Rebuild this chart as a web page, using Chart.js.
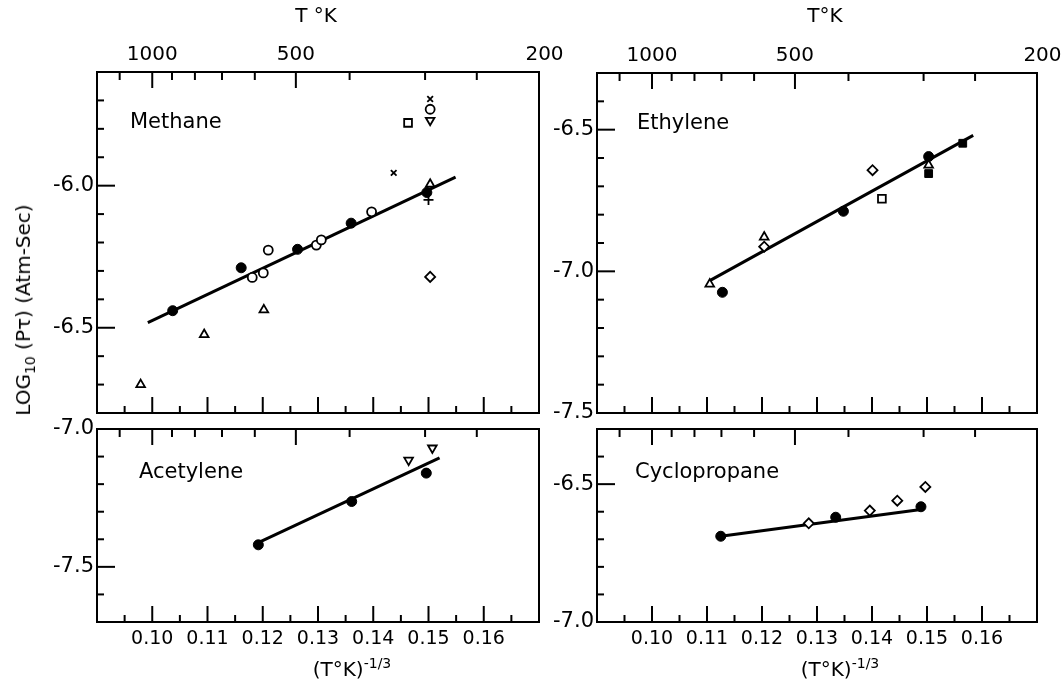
<!DOCTYPE html>
<html>
<head>
<meta charset="utf-8">
<script src="https://cdn.jsdelivr.net/npm/chart.js@4.4.1/dist/chart.umd.min.js"></script>
<style>
body { margin: 0; background: #fff; }
#wrap { position: relative; width: 1063px; height: 680px; font-family: "DejaVu Sans", sans-serif; color: #000; overflow: hidden; }
canvas { position: absolute; }
.lbl { position: absolute; font-size: 20px; white-space: nowrap; line-height: 1; }
.lbl sup { font-size: 14px; vertical-align: 8px; }
.lbl sub { font-size: 14px; vertical-align: -5px; }
</style>
</head>
<body>
<div id="wrap">
  <canvas id="methane" width="570" height="426" style="left:0;top:0"></canvas>
  <canvas id="ethylene" width="523" height="426" style="left:540px;top:0"></canvas>
  <canvas id="acetylene" width="570" height="280" style="left:0;top:400px"></canvas>
  <canvas id="cyclopropane" width="523" height="280" style="left:540px;top:400px"></canvas>

  <div class="lbl" style="left:316px;top:5px;transform:translateX(-50%)">T °K</div>
  <div class="lbl" style="left:825px;top:5px;transform:translateX(-50%)">T°K</div>
  <div class="lbl" style="left:25px;top:310px;transform:translate(-50%,-50%) rotate(-90deg)">LOG<sub>10</sub> (Pτ) (Atm-Sec)</div>
  <div class="lbl" style="left:352px;top:656px;transform:translateX(-50%)">(T°K)<sup>-1/3</sup></div>
  <div class="lbl" style="left:840px;top:656px;transform:translateX(-50%)">(T°K)<sup>-1/3</sup></div>
</div>

<script>
// axes
const X_MIN = 0.09, X_MAX = 0.17;
const xMajorTicks = [0.10, 0.11, 0.12, 0.13, 0.14, 0.15, 0.16];
const xMinorTicks = [0.095, 0.105, 0.115, 0.125, 0.135, 0.145, 0.155, 0.165];
const tempMajorTicks = [1000, 500, 200];
const tempMinorTicks = [1200, 900, 800, 700, 600, 400, 300, 250];

const methaneYMajor = [-6.5, -6.0];
const methaneYMinor = [-6.7, -6.6, -6.4, -6.3, -6.2, -6.1, -5.9, -5.8, -5.7];
const ethyleneYMajor = [-7.5, -7.0, -6.5];
const ethyleneYMinor = [-7.4, -7.3, -7.2, -7.1, -6.9, -6.8, -6.7, -6.6, -6.4];
const acetyleneYMajor = [-7.5, -7.0];
const acetyleneYMinor = [-7.6, -7.4, -7.3, -7.2, -7.1];
const cycloYMajor = [-7.0, -6.5];
const cycloYMinor = [-6.9, -6.8, -6.7, -6.6, -6.4];

// Methane  [x = (T°K)^-1/3, y = log10(P tau)]
const methaneFilled = [[0.1037, -6.44], [0.1161, -6.289], [0.1263, -6.224], [0.136, -6.132], [0.1497, -6.024]];
const methaneOpen = [[0.1181, -6.323], [0.1201, -6.307], [0.121, -6.227], [0.1297, -6.209], [0.1306, -6.191], [0.1397, -6.092], [0.1503, -5.731]];
const methaneTriangle = [[0.0979, -6.70], [0.1094, -6.524], [0.1202, -6.437], [0.1503, -5.995]];
const methaneTriDown = [[0.1503, -5.770]];
const methaneSquare = [[0.1463, -5.779]];
const methaneCross = [[0.1437, -5.955], [0.1503, -5.695]];
const methanePlus = [[0.1500, -6.05]];
const methaneDiamond = [[0.1503, -6.321]];
const methaneFit = [[0.0992, -6.482], [0.1549, -5.970]];

// Ethylene
const ethyleneTriangle = [[0.1105, -7.045], [0.1204, -6.879], [0.1503, -6.625]];
const ethyleneFilled = [[0.1128, -7.074], [0.1348, -6.788], [0.1503, -6.595]];
const ethyleneDiamond = [[0.1204, -6.913], [0.1401, -6.643]];
const ethyleneSquare = [[0.1418, -6.744]];
const ethyleneFilledSquare = [[0.1503, -6.655], [0.1565, -6.548]];
const ethyleneFit = [[0.1105, -7.033], [0.1584, -6.520]];

// Acetylene
const acetyleneFilled = [[0.1192, -7.420], [0.1361, -7.263], [0.1496, -7.160]];
const acetyleneTriDown = [[0.1464, -7.113], [0.1507, -7.069]];
const acetyleneFit = [[0.1192, -7.412], [0.152, -7.105]];

// Cyclopropane
const cycloFilled = [[0.1125, -6.689], [0.1334, -6.620], [0.1489, -6.582]];
const cycloDiamond = [[0.1285, -6.642], [0.1396, -6.596], [0.1446, -6.560], [0.1497, -6.510]];
const cycloFit = [[0.1125, -6.689], [0.1489, -6.592]];

Chart.defaults.font.family = '"DejaVu Sans", sans-serif';
Chart.defaults.color = '#000';

const FILLED = { pointStyle: 'circle', pointRadius: 5, pointBackgroundColor: '#000', pointBorderColor: '#000', pointBorderWidth: 1 };
const OPEN = { pointStyle: 'circle', pointRadius: 4.5, pointBackgroundColor: '#fff', pointBorderColor: '#000', pointBorderWidth: 1.8 };
const TRI = { pointStyle: 'triangle', pointRadius: 5, pointBackgroundColor: '#fff', pointBorderColor: '#000', pointBorderWidth: 1.8 };
const TRI_DOWN = { pointStyle: 'triangle', pointRotation: 180, pointRadius: 5, pointBackgroundColor: '#fff', pointBorderColor: '#000', pointBorderWidth: 1.8 };
const SQUARE = { pointStyle: 'rect', pointRadius: 5.5, pointBackgroundColor: '#fff', pointBorderColor: '#000', pointBorderWidth: 1.8 };
const FILLED_SQUARE = { pointStyle: 'rect', pointRadius: 5.5, pointBackgroundColor: '#000', pointBorderColor: '#000', pointBorderWidth: 1 };
const DIAMOND = { pointStyle: 'rectRot', pointRadius: 5, pointBackgroundColor: '#fff', pointBorderColor: '#000', pointBorderWidth: 1.8 };
const XMARK = { pointStyle: 'crossRot', pointRadius: 4, pointBorderColor: '#000', pointBorderWidth: 1.8 };
const PLUS = { pointStyle: 'cross', pointRadius: 5, pointBorderColor: '#000', pointBorderWidth: 1.8 };

const pts = arr => arr.map(([x, y]) => ({ x, y }));
const marks = (arr, style) => Object.assign({ data: pts(arr), showLine: false }, style);
const fit = arr => ({ data: pts(arr), showLine: true, pointRadius: 0, borderColor: '#000', borderWidth: 3, order: 10 });

// fixed axis size, no extra label padding, so the frame lands where it should
const fixSize = (key, px) => s => {
    s[key] = px;
    s.paddingLeft = 0; s.paddingRight = 0; s.paddingTop = 0; s.paddingBottom = 0;
};

const framePlugin = {
    id: 'frame',
    afterDraw(chart, args, opts) {
        const { ctx, chartArea: a, scales } = chart;
        ctx.save();
        ctx.strokeStyle = '#000';
        ctx.lineWidth = 2;
        ctx.strokeRect(a.left, a.top, a.right - a.left, a.bottom - a.top);
        const line = (x1, y1, x2, y2) => { ctx.beginPath(); ctx.moveTo(x1, y1); ctx.lineTo(x2, y2); ctx.stroke(); };

        xMajorTicks.forEach(v => { const px = scales.x.getPixelForValue(v); line(px, a.bottom, px, a.bottom - 16); });
        xMinorTicks.forEach(v => { const px = scales.x.getPixelForValue(v); line(px, a.bottom, px, a.bottom - 7); });
        tempMajorTicks.forEach(t => {
            const px = scales.x2.getPixelForValue(Math.cbrt(1 / t));
            if (px < a.right - 2) line(px, a.top, px, a.top + 16);
        });
        tempMinorTicks.forEach(t => {
            const px = scales.x2.getPixelForValue(Math.cbrt(1 / t));
            if (px > a.left + 2 && px < a.right - 2) line(px, a.top, px, a.top + 8);
        });
        opts.yMajor.forEach(v => {
            const py = scales.y.getPixelForValue(v);
            if (py > a.top + 2 && py < a.bottom - 2) line(a.left, py, a.left + 18, py);
        });
        opts.yMinor.forEach(v => { const py = scales.y.getPixelForValue(v); line(a.left, py, a.left + 7, py); });

        ctx.fillStyle = '#000';
        ctx.font = '21px "DejaVu Sans", sans-serif';
        ctx.textBaseline = 'alphabetic';
        ctx.fillText(opts.name, a.left + opts.nameDx, a.top + opts.nameDy);
        ctx.restore();
    }
};

function makePanel(id, p) {
    new Chart(document.getElementById(id), {
        type: 'scatter',
        data: { datasets: p.datasets },
        options: {
            responsive: false,
            animation: false,
            layout: { padding: { left: 0, top: 0, bottom: 0, right: p.padRight } },
            plugins: {
                legend: { display: false },
                tooltip: { enabled: false },
                frame: { name: p.name, nameDx: p.nameDx, nameDy: p.nameDy, yMajor: p.yMajor, yMinor: p.yMinor }
            },
            scales: {
                x: {
                    type: 'linear', position: 'bottom', min: X_MIN, max: X_MAX,
                    grid: { display: false, drawTicks: false }, border: { display: false },
                    ticks: { display: p.bottomLabels, autoSkip: false, maxRotation: 0, padding: 6, font: { size: 19 }, callback: v => v.toFixed(2) },
                    afterBuildTicks: s => { s.ticks = xMajorTicks.map(v => ({ value: v })); },
                    afterFit: fixSize('height', p.bottomH)
                },
                x2: {
                    type: 'linear', position: 'top', min: X_MIN, max: X_MAX,
                    grid: { display: false, drawTicks: false }, border: { display: false },
                    ticks: { display: p.topLabels, autoSkip: false, maxRotation: 0, padding: 5, font: { size: 20 }, callback: (v, i) => String(tempMajorTicks[i]) },
                    afterBuildTicks: s => { s.ticks = tempMajorTicks.map(t => ({ value: Math.cbrt(1 / t) })); },
                    afterFit: fixSize('height', p.topH)
                },
                y: {
                    type: 'linear', position: 'left', min: p.yMin, max: p.yMax,
                    grid: { display: false, drawTicks: false }, border: { display: false },
                    ticks: { autoSkip: false, padding: 3, font: { size: 21 }, callback: v => v.toFixed(1) },
                    afterBuildTicks: s => { s.ticks = p.yMajor.map(v => ({ value: v })); },
                    afterFit: fixSize('width', p.leftW)
                }
            }
        },
        plugins: [framePlugin]
    });
}

makePanel('methane', {
    name: 'Methane', nameDx: 33, nameDy: 56,
    yMin: -6.8, yMax: -5.6, yMajor: methaneYMajor, yMinor: methaneYMinor,
    leftW: 97, topH: 72, bottomH: 13, padRight: 31, topLabels: true, bottomLabels: false,
    datasets: [
        marks(methaneFilled, FILLED), marks(methaneOpen, OPEN), marks(methaneTriangle, TRI),
        marks(methaneTriDown, TRI_DOWN), marks(methaneSquare, SQUARE), marks(methaneCross, XMARK),
        marks(methanePlus, PLUS), marks(methaneDiamond, DIAMOND), fit(methaneFit)
    ]
});

makePanel('ethylene', {
    name: 'Ethylene', nameDx: 40, nameDy: 56,
    yMin: -7.5, yMax: -6.3, yMajor: ethyleneYMajor, yMinor: ethyleneYMinor,
    leftW: 57, topH: 73, bottomH: 13, padRight: 26, topLabels: true, bottomLabels: false,
    datasets: [
        marks(ethyleneFilled, FILLED), marks(ethyleneTriangle, TRI), marks(ethyleneDiamond, DIAMOND),
        marks(ethyleneSquare, SQUARE), marks(ethyleneFilledSquare, FILLED_SQUARE), fit(ethyleneFit)
    ]
});

makePanel('acetylene', {
    name: 'Acetylene', nameDx: 42, nameDy: 49,
    yMin: -7.7, yMax: -7.0, yMajor: acetyleneYMajor, yMinor: acetyleneYMinor,
    leftW: 97, topH: 29, bottomH: 58, padRight: 31, topLabels: false, bottomLabels: true,
    datasets: [
        marks(acetyleneFilled, FILLED), marks(acetyleneTriDown, TRI_DOWN), fit(acetyleneFit)
    ]
});

makePanel('cyclopropane', {
    name: 'Cyclopropane', nameDx: 38, nameDy: 49,
    yMin: -7.0, yMax: -6.3, yMajor: cycloYMajor, yMinor: cycloYMinor,
    leftW: 57, topH: 29, bottomH: 58, padRight: 26, topLabels: false, bottomLabels: true,
    datasets: [
        marks(cycloFilled, FILLED), marks(cycloDiamond, DIAMOND), fit(cycloFit)
    ]
});
</script>
</body>
</html>
